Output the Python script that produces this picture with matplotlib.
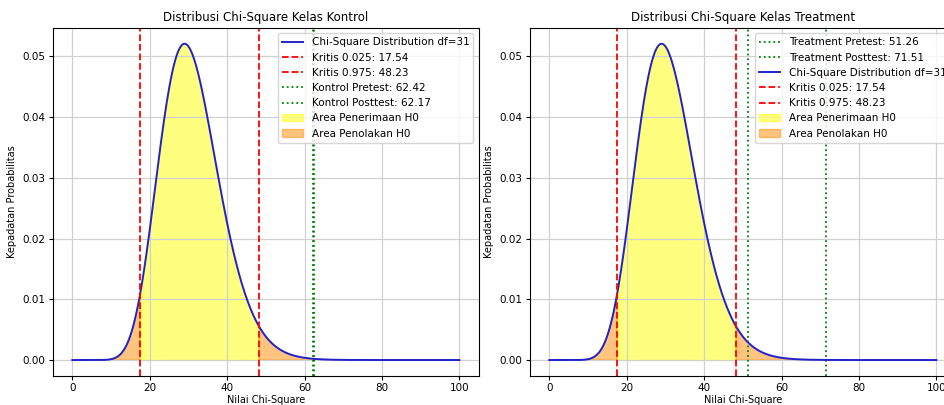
import math
import numpy as np
import matplotlib
matplotlib.use("Agg")
import matplotlib.pyplot as plt

df = 31
kritis_bawah = 17.54
kritis_atas = 48.23
x_min, x_max = 0, 100

judul = ["Distribusi Chi-Square Kelas Kontrol", "Distribusi Chi-Square Kelas Treatment"]
label_uji = [["Kontrol Pretest", "Kontrol Posttest"], ["Treatment Pretest", "Treatment Posttest"]]
nilai_uji = [[62.42, 62.17], [51.26, 71.51]]


def chi2_pdf(x, k):
    x = np.asarray(x, dtype=float)
    out = np.zeros_like(x)
    m = x > 0
    out[m] = np.exp((k / 2 - 1) * np.log(x[m]) - x[m] / 2 - (k / 2) * math.log(2) - math.lgamma(k / 2))
    return out


x = np.linspace(x_min, x_max, 1000)
y = chi2_pdf(x, df)

plt.rcParams["font.size"] = 7.5
fig = plt.figure(figsize=(9.44, 4.05), dpi=100)
posisi = [[0.0561, 0.072, 0.451, 0.859], [0.5614, 0.072, 0.451, 0.859]]

for i in range(2):
    ax = fig.add_axes(posisi[i])
    h_uji = []
    for lab, v in zip(label_uji[i], nilai_uji[i]):
        h_uji.append(ax.axvline(v, color="green", linestyle=":", linewidth=1.3,
                                label=f"{lab}: {v:.2f}"))
    h_kurva, = ax.plot(x, y, color="#2222cc", linewidth=1.4,
                       label=f"Chi-Square Distribution df={df}")
    h_k1 = ax.axvline(kritis_bawah, color="red", linestyle="--", linewidth=1.3,
                      label=f"Kritis 0.025: {kritis_bawah:.2f}")
    h_k2 = ax.axvline(kritis_atas, color="red", linestyle="--", linewidth=1.3,
                      label=f"Kritis 0.975: {kritis_atas:.2f}")
    terima = (x >= kritis_bawah) & (x <= kritis_atas)
    tolak = (x <= kritis_bawah) | (x >= kritis_atas)
    h_a1 = ax.fill_between(x, y, where=terima, color="yellow", alpha=0.5,
                           label="Area Penerimaan H0")
    h_a2 = ax.fill_between(x, y, where=tolak, color="darkorange", alpha=0.5,
                           label="Area Penolakan H0")
    if i == 0:
        urutan = [h_kurva, h_k1, h_k2] + h_uji + [h_a1, h_a2]
    else:
        urutan = h_uji + [h_kurva, h_k1, h_k2] + [h_a1, h_a2]
    ax.legend(handles=urutan, loc="upper right", fontsize=7.5)
    ax.set_title(judul[i], fontsize=8.5, pad=5)
    ax.set_xlabel("Nilai Chi-Square", fontsize=7, labelpad=1)
    ax.set_ylabel("Kepadatan Probabilitas", fontsize=7)
    ax.tick_params(labelsize=7.5, length=3, pad=2.5)
    ax.grid(True, color="#d0d0d0", linewidth=0.9)

plt.savefig("out.png", dpi=100)
